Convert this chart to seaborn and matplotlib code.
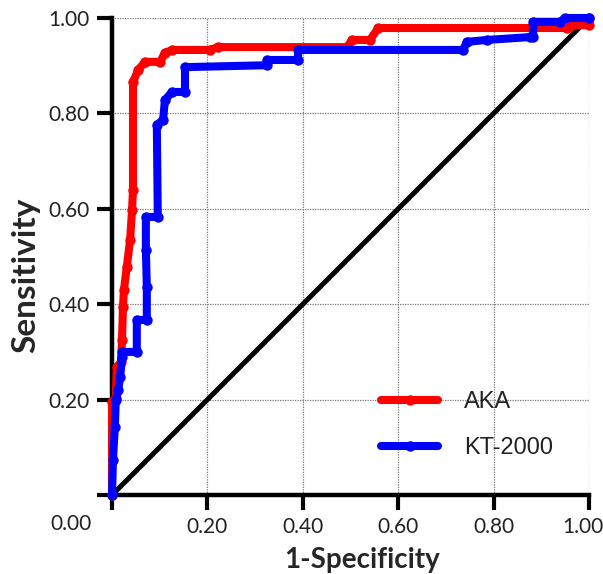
import matplotlib
matplotlib.use("Agg")
import matplotlib.pyplot as plt
from matplotlib.lines import Line2D
import matplotlib.transforms as mtransforms
import seaborn as sns
import pandas as pd

# ROC curve for AKA (1-Specificity, Sensitivity)
aka_fpr = [0.000, 0.000, 0.008, 0.010, 0.019, 0.021, 0.023, 0.025, 0.031, 0.038,
           0.042, 0.044, 0.044, 0.055, 0.069, 0.101, 0.111, 0.126, 0.205, 0.222,
           0.493, 0.503, 0.541, 0.558, 0.954, 0.964, 1.000, 1.000]
aka_tpr = [0.000, 0.195, 0.203, 0.268, 0.279, 0.325, 0.394, 0.430, 0.478, 0.535,
           0.597, 0.639, 0.866, 0.891, 0.908, 0.908, 0.927, 0.933, 0.933, 0.939,
           0.939, 0.954, 0.954, 0.979, 0.979, 0.985, 0.985, 1.000]

# ROC curve for KT-2000
kt_fpr = [0.000, 0.002, 0.006, 0.008, 0.013, 0.017, 0.021, 0.021, 0.052, 0.052,
          0.073, 0.073, 0.071, 0.071, 0.096, 0.094, 0.107, 0.111, 0.126, 0.153,
          0.153, 0.325, 0.325, 0.390, 0.390, 0.736, 0.744, 0.786, 0.876, 0.883,
          0.883, 0.939, 0.950, 1.000]
kt_tpr = [0.000, 0.073, 0.143, 0.199, 0.220, 0.247, 0.289, 0.300, 0.300, 0.367,
          0.367, 0.436, 0.514, 0.583, 0.583, 0.776, 0.786, 0.828, 0.845, 0.845,
          0.897, 0.901, 0.912, 0.912, 0.933, 0.933, 0.950, 0.954, 0.960, 0.960,
          0.992, 0.992, 1.000, 1.000]

ref_x = [0.0, 1.0]
ref_y = [0.0, 1.0]

series_names = ["AKA", "KT-2000"]
series_colors = ["#ff0000", "#0000ff"]

tick_vals = [0.0, 0.2, 0.4, 0.6, 0.8, 1.0]
x_tick_labels = ["", "0.20", "0.40", "0.60", "0.80", "1.00"]
y_tick_labels = ["", "0.20", "0.40", "0.60", "0.80", "1.00"]
origin_label = "0.00"
x_title = "1-Specificity"
y_title = "Sensitivity"

sns.set_theme(style="white")
plt.rcParams["font.family"] = ["Lato", "DejaVu Sans"]

fig = plt.figure(figsize=(6.03, 5.74), dpi=100)
ax = fig.add_axes([112 / 603, 79 / 574, 477 / 603, 477 / 574])

# reference diagonal
sns.lineplot(x=ref_x, y=ref_y, ax=ax, color="black", linewidth=3.6,
             estimator=None, sort=False, zorder=2)

df_aka = pd.DataFrame({"fpr": aka_fpr, "tpr": aka_tpr})
df_kt = pd.DataFrame({"fpr": kt_fpr, "tpr": kt_tpr})
for df, col in zip([df_aka, df_kt], series_colors):
    sns.lineplot(data=df, x="fpr", y="tpr", ax=ax, color=col, linewidth=5.8,
                 marker="o", markersize=7.5, markeredgewidth=0,
                 estimator=None, sort=False, zorder=3, clip_on=False)

ax.set_xlim(0, 1)
ax.set_ylim(0, 1)
ax.set_xticks(tick_vals)
ax.set_yticks(tick_vals)
ax.set_xticklabels(x_tick_labels)
ax.set_yticklabels(y_tick_labels)
ax.tick_params(axis="both", which="major", direction="out", length=11, width=3,
               color="black", labelsize=15, labelcolor="#222222", pad=5,
               bottom=True, left=True)

# nudge the last x tick label inward like the reference
last_lbl = ax.get_xticklabels()[-1]
last_lbl.set_transform(last_lbl.get_transform() +
                       mtransforms.ScaledTranslation(-6 / 100, 0, fig.dpi_scale_trans))

for s in ["top", "right"]:
    ax.spines[s].set_visible(False)
for s in ["left", "bottom"]:
    ax.spines[s].set_linewidth(3.2)
    ax.spines[s].set_color("black")

ax.grid(True, linestyle=(0, (1, 1)), linewidth=0.9, color="#777777")
ax.set_axisbelow(True)

ax.text(-0.086, -0.061, origin_label, transform=ax.transAxes, ha="center",
        va="center", fontsize=15, color="#222222")

ax.set_xlabel(x_title, fontsize=20, fontweight="bold")
ax.set_ylabel(y_title, fontsize=24, fontweight="bold")
ax.xaxis.set_label_coords(0.524, -0.108)
ax.yaxis.set_label_coords(-0.151, 0.46)

handles = [Line2D([0], [0], color=c, linewidth=5.8, marker="o", markersize=7.5,
                  markeredgewidth=0) for c in series_colors]
leg = ax.legend(handles, series_names, loc="upper left",
                bbox_to_anchor=(0.52, 0.262), frameon=False,
                prop={"family": ["Liberation Sans"], "size": 17},
                handlelength=2.4, handletextpad=1.1, labelspacing=1.0,
                numpoints=1)
for t in leg.get_texts():
    t.set_color("#222222")

fig.savefig("out.png", dpi=100)
